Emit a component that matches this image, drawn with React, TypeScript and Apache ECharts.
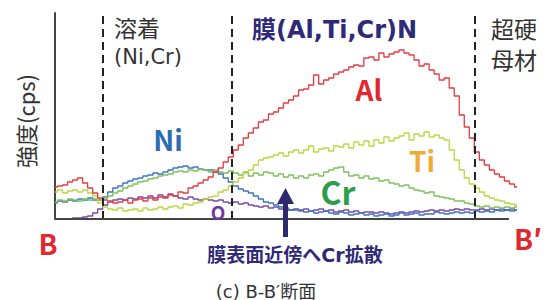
import React, { useEffect, useRef } from "react";
import * as echarts from "echarts";

// Line-scan intensity (relative units), sampled along B → B′ (index = position step)
const al = [
  32, 33, 34, 37, 39, 41, 36, 31, 26, 21,
  19, 18, 16, 17, 19, 16, 19, 20, 18, 21,
  19, 22, 21, 24, 23, 27, 26, 31, 33, 36,
  39, 42, 47, 51, 57, 62, 69, 74, 81, 86,
  91, 97, 99, 105, 107, 111, 116, 119, 123,
  129, 130, 134, 144, 135, 139, 141, 145, 147, 149,
  152, 154, 153, 161, 162, 159, 166, 162, 165, 167,
  169, 166, 164, 159, 153, 155, 149, 145, 139, 141,
  131, 123, 104, 92, 81, 67, 59, 54, 49, 45,
  42, 38, 35, 32,
];
const ti = [
  27, 29, 26, 28, 29, 27, 29, 26, 23, 16,
  12, 10, 9, 11, 8, 9, 10, 8, 11, 9,
  10, 12, 10, 12, 13, 11, 15, 14, 16, 17,
  20, 22, 23, 27, 29, 33, 37, 41, 46, 49,
  54, 59, 61, 62, 64, 66, 63, 67, 69,
  66, 69, 73, 67, 70, 71, 68, 73, 72, 75,
  71, 77, 74, 78, 73, 79, 76, 82, 78, 81,
  83, 86, 79, 85, 83, 87, 82, 84, 81, 79,
  69, 59, 49, 41, 35, 31, 27, 23, 21, 19,
  18, 16, 15, 14,
];
const cr = [
  17, 19, 18, 20, 19, 18, 20, 19, 20, 19,
  21, 23, 26, 28, 31, 33, 35, 37, 38, 40,
  41, 43, 44, 45, 47, 48, 47, 49, 48, 50,
  49, 47, 49, 47, 46, 48, 46, 44, 47, 43,
  46, 44, 47, 46, 43, 45, 42, 44, 41,
  43, 41, 44, 45, 43, 47, 49, 51, 52, 47,
  43, 44, 41, 43, 40, 41, 38, 39, 36, 35,
  33, 34, 31, 29, 28, 26, 27, 23, 22, 21,
  20, 18, 18, 16, 15, 13, 12, 13, 11, 12,
  11, 12, 11, 12,
];
const ni = [
  16, 18, 17, 19, 18, 20, 19, 21, 19, 19,
  22, 27, 31, 33, 36, 38, 40, 41, 43, 44,
  46, 45, 47, 49, 51, 52, 53, 51, 52, 50,
  49, 49, 47, 45, 41, 37, 33, 30, 28, 26,
  23, 20, 17, 16, 14, 12, 10, 9, 9,
  8, 7, 8, 6, 7, 8, 6, 5, 7, 6,
  4, 5, 6, 4, 5, 3, 4, 5, 3, 4,
  6, 4, 5, 6, 4, 5, 5, 7, 6, 5,
  6, 7, 6, 7, 6, 8, 7, 8, 7, 9,
  8, 9, 8, 9,
];
const o = [
  null, null, 0, 0, 1, 1, 2, 3, 6, 10,
  14, 17, 19, 20, 19, 21, 20, 22, 21, 23,
  21, 24, 22, 25, 23, 21, 20, 22, 20, 19,
  20, 19, 18, 19, 17, 16, 17, 15, 16, 14,
  13, 12, 13, 11, 12, 10, 11, 9, 10,
  9, 10, 8, 9, 10, 8, 9, 7, 8, 9,
  7, 8, 6, 7, 7, 6, 7, 6, 5, 6,
  7, 6, 7, 8, 7, 8, 9, 8, 9, 8,
  9, 10, 9, 10, 9, 9, 10, 9, 10, 9,
  10, 9, 10, 9,
];

// Layer boundaries (position index) and x-axis end
const boundaries = [9.6, 35.1, 83.6];
const axisEnd = 90.4;
const xMax = 92;
const yMax = 206;

const seriesDefs = [
  { name: "O", data: o, color: "#7c4aa8" },
  { name: "Ni", data: ni, color: "#3b74c4" },
  { name: "Cr", data: cr, color: "#7cc25c" },
  { name: "Ti", data: ti, color: "#bcd640" },
  { name: "Al", data: al, color: "#e83a3f" },
];

const FONT = '"Noto Sans CJK JP", "Noto Sans", sans-serif';
const WIDE = '"DejaVu Sans", "Noto Sans CJK JP", sans-serif';

function txt(
  text: string,
  x: number,
  y: number,
  size: number,
  fill: string,
  bold = false,
  align = "center",
  rotation = 0,
  family = FONT
) {
  return {
    type: "text",
    x,
    y,
    rotation,
    silent: true,
    z: 100,
    style: {
      text,
      fill,
      fontSize: size,
      fontWeight: bold ? "bold" : "normal",
      fontFamily: family,
      textAlign: align,
      textVerticalAlign: "middle",
    },
  };
}

export default function App() {
  const ref = useRef<HTMLDivElement>(null);
  useEffect(() => {
    if (!ref.current) return;
    document.body.style.margin = "0";
    const chart = echarts.init(ref.current, null, { renderer: "svg" });
    const series: any[] = seriesDefs.map((s) => ({
      name: s.name,
      type: "line",
      step: "middle",
      showSymbol: false,
      symbol: "none",
      connectNulls: false,
      data: s.data.map((v, i) => [i, v]),
      lineStyle: { color: s.color, width: 1.3 },
      itemStyle: { color: s.color },
      z: 3,
    }));
    series.push({
      type: "line",
      data: [],
      silent: true,
      markLine: {
        silent: true,
        symbol: "none",
        label: { show: false },
        animation: false,
        data: [
          ...boundaries.map((b) => ({
            xAxis: b,
            lineStyle: { color: "#222", width: 2, type: [8, 5] },
          })),
          [
            { coord: [0, 0], lineStyle: { color: "#444", width: 2, type: "solid" } },
            { coord: [axisEnd, 0] },
          ],
        ],
      },
    });
    chart.setOption({
      animation: false,
      grid: { left: 55, right: 31, top: 13, bottom: 81 },
      xAxis: {
        type: "value",
        min: 0,
        max: xMax,
        axisLine: { show: false },
        axisTick: { show: false },
        axisLabel: { show: false },
        splitLine: { show: false },
      },
      yAxis: {
        type: "value",
        min: 0,
        max: yMax,
        axisLine: { show: true, lineStyle: { color: "#444", width: 2 } },
        axisTick: { show: false },
        axisLabel: { show: false },
        splitLine: { show: false },
      },
      series,
      graphic: [
        txt("強度(cps)", 25, 121, 22, "#333", false, "center", Math.PI / 2),
        txt("溶着", 114, 27, 23, "#333", false, "left"),
        txt("(Ni,Cr)", 114, 57, 21, "#333", false, "left", 0, WIDE),
        txt("膜(Al,Ti,Cr)N", 252, 30, 24, "#2e2a78", true, "left", 0, WIDE),
        txt("超硬", 491, 28, 23, "#333", false, "left"),
        txt("母材", 491, 59, 23, "#333", false, "left"),
        txt("Al", 369, 89, 28, "#e0282e", true),
        txt("Ni", 168, 139, 28, "#2a6db5", true),
        txt("Ti", 422, 160, 28, "#f0aa35", true),
        txt("Cr", 338, 191, 32, "#2c9e4a", true),
        txt("O", 218, 211, 19, "#6b3aa0", true),
        txt("B", 48, 243, 28, "#e0282e", true),
        txt("B′", 528, 238, 28, "#e0282e", true),
        txt("膜表面近傍へCr拡散", 295, 255, 19, "#2e2a78", true, "center", 0, WIDE),
        txt("(c) B-B′断面", 266, 291, 18, "#333", false, "center", 0, WIDE),
        {
          type: "rect",
          silent: true,
          z: 100,
          shape: { x: 283, y: 200, width: 5, height: 37 },
          style: { fill: "#2d2a6e" },
        },
        {
          type: "polygon",
          silent: true,
          z: 100,
          shape: { points: [[277, 204], [285.5, 188], [294, 204]] },
          style: { fill: "#2d2a6e" },
        },
      ],
    });
    return () => chart.dispose();
  }, []);
  return <div ref={ref} style={{ width: 548, height: 300 }} />;
}
